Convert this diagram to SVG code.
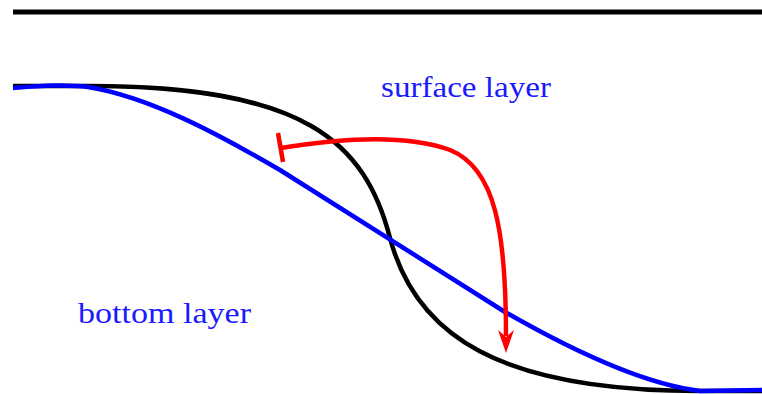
<svg xmlns="http://www.w3.org/2000/svg" width="762" height="394" viewBox="0 0 762 394">
<style>
.ln{fill:none;stroke-width:4.5;stroke-linecap:butt;stroke-linejoin:round}
.lbl{font-family:"Liberation Serif","DejaVu Serif",serif;font-size:30px;fill:#1a1aff}
</style>
<g id="top-line"><line x1="13" y1="12" x2="762" y2="12" stroke="#000" stroke-width="5"/></g>
<g id="connectors">
<path id="black-curve" class="ln" stroke="#000" d="M13 86 L90 86 C305 86 365 142 390 238 C416 336 500 391 700 391 L762 391"/>
<path id="blue-curve" class="ln" stroke="#0000ff" stroke-width="5" d="M13 88 C40 86 65 84 88 87 C150 97 220 135 280 170 L505 312 C580 355 650 385 700 391 L762 390"/>
<path id="red-arrow" class="ln" stroke="#ff0000" d="M281 148 C330 140 400 132 450 150 C495 168 506 230 506 336"/>
<path d="M498 330 L506 353 L514 330 L506 337 Z" fill="#ff0000"/>
<line x1="278" y1="133" x2="283" y2="162" stroke="#ff0000" stroke-width="4.5"/>
</g>
<g id="surface-label"><text class="lbl" x="381" y="97" textLength="170" lengthAdjust="spacingAndGlyphs">surface layer</text></g>
<g id="bottom-label"><text class="lbl" x="78" y="323" textLength="173" lengthAdjust="spacingAndGlyphs">bottom layer</text></g>
</svg>
